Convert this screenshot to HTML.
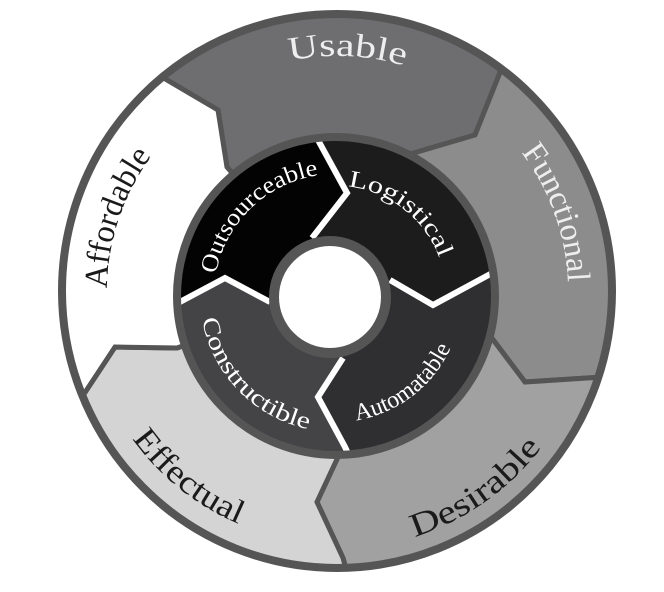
<!DOCTYPE html>
<html><head><meta charset="utf-8"><style>
html,body{margin:0;padding:0;background:#fff;width:664px;height:592px;overflow:hidden}
svg{display:block}
text{font-family:"Liberation Serif","DejaVu Serif",serif}
</style></head><body>
<svg width="664" height="592" viewBox="0 0 664 592" xmlns="http://www.w3.org/2000/svg" style="position:absolute;left:0;top:0">
<defs>
<clipPath id="oc"><ellipse cx="337" cy="291" rx="275" ry="277"/></clipPath>
<clipPath id="ic"><circle cx="336" cy="296" r="159"/></clipPath>
<path id="pU"/><path id="pF"/><path id="pD"/><path id="pE"/><path id="pA"/>
<path id="pO"/><path id="pL"/><path id="pAu"/><path id="pC"/>
</defs>
<g clip-path="url(#oc)" stroke="#555" stroke-width="5" stroke-linejoin="miter">
<polygon fill="#6e6e70" points="337,292 227,167 218,110 167,80 100,40 100,-50 560,-50 515,35 497,80 475,135 407,155"/>
<polygon fill="#8c8c8d" points="337,292 407,155 475,135 497,80 515,35 700,35 700,375 640,375 587,378 525,382 488,333"/>
<polygon fill="#a1a1a2" points="337,292 488,333 525,382 587,378 640,375 700,700 360,620 343,558 317,502 338,457"/>
<polygon fill="#d4d4d5" points="337,292 338,457 317,502 343,558 360,620 0,620 50,445 82,397 115,347 177,348"/>
<polygon fill="#ffffff" points="337,292 177,348 115,347 82,397 50,445 0,0 100,40 167,80 218,110 227,167"/>
</g>
<ellipse cx="337" cy="291" rx="275" ry="277" fill="none" stroke="#555" stroke-width="8"/>
<g clip-path="url(#ic)">
<polygon fill="#030303" points="330,297 270,302 225,278 178,303 150,318 150,100 305,115 318,140 347,193 312,238"/>
<polygon fill="#1c1c1c" points="330,297 312,238 347,193 318,140 305,115 520,100 520,258 483,278 433,305 390,280"/>
<polygon fill="#2f2f31" points="330,297 390,280 433,305 483,278 520,258 520,500 358,475 345,447 318,397 343,358"/>
<polygon fill="#444446" points="330,297 343,358 318,397 345,447 358,475 150,480 150,318 178,303 225,278 270,302"/>
<g fill="none" stroke="#fff" stroke-width="6" stroke-linejoin="miter">
<polyline points="305,115 318,140 347,193 312,238"/>
<polyline points="390,280 433,305 483,278 520,258"/>
<polyline points="343,358 318,397 345,447 358,475"/>
<polyline points="150,318 178,303 225,278 270,302"/>
</g>
</g>
<circle cx="336" cy="296" r="159" fill="none" stroke="#555" stroke-width="8"/>
<circle cx="330" cy="297" r="61" fill="#555"/>
<circle cx="330" cy="297" r="51" fill="#fff"/>
<g font-size="33">
<text fill="#eeeeee"><textPath href="#pU" startOffset="50%" text-anchor="middle" textLength="116" lengthAdjust="spacingAndGlyphs">Usable</textPath></text>
<text fill="#eeeeee"><textPath href="#pF" startOffset="50%" text-anchor="middle" textLength="140" lengthAdjust="spacingAndGlyphs">Functional</textPath></text>
<text fill="#1a1a1a"><textPath href="#pD" startOffset="50%" text-anchor="middle" textLength="158" lengthAdjust="spacingAndGlyphs">Desirable</textPath></text>
<text fill="#1a1a1a"><textPath href="#pE" startOffset="50%" text-anchor="middle" textLength="138" lengthAdjust="spacingAndGlyphs">Effectual</textPath></text>
<text fill="#1a1a1a"><textPath href="#pA" startOffset="50%" text-anchor="middle" textLength="142" lengthAdjust="spacingAndGlyphs">Affordable</textPath></text>
</g>
<g font-size="24" fill="#ffffff">
<text><textPath href="#pO" startOffset="50%" text-anchor="middle" textLength="152" lengthAdjust="spacingAndGlyphs">Outsourceable</textPath></text>
<text><textPath href="#pL" startOffset="50%" text-anchor="middle" textLength="122" lengthAdjust="spacingAndGlyphs">Logistical</textPath></text>
<text><textPath href="#pAu" startOffset="50%" text-anchor="middle" textLength="124" lengthAdjust="spacingAndGlyphs">Automatable</textPath></text>
<text><textPath href="#pC" startOffset="50%" text-anchor="middle" textLength="162" lengthAdjust="spacingAndGlyphs">Constructible</textPath></text>
</g>
</svg>
<script>
function arc(id,cx,cy,r,ang,cw){
  var span=120,a0,a1,sw;
  if(cw){a0=ang-span/2;a1=ang+span/2;sw=1;}else{a0=ang+span/2;a1=ang-span/2;sw=0;}
  var t0=a0*Math.PI/180,t1=a1*Math.PI/180;
  var x0=cx+r*Math.cos(t0),y0=cy+r*Math.sin(t0),x1=cx+r*Math.cos(t1),y1=cy+r*Math.sin(t1);
  document.getElementById(id).setAttribute('d','M'+x0.toFixed(2)+' '+y0.toFixed(2)+' A'+r+' '+r+' 0 0 '+sw+' '+x1.toFixed(2)+' '+y1.toFixed(2));
}
var fo=33*0.33, fi=24*0.33;
arc('pU',337,292,247-fo,-87.5,true);
arc('pF',337,292,242-fo,-19.8,true);
arc('pA',337,292,241-fo,-161.4,true);
arc('pD',337,292,246+fo,54.8,false);
arc('pE',337,292,241+fo,128.7,false);
arc('pO',336,296,130-fi,-134,true);
arc('pL',336,296,118-fi,-52,true);
arc('pAu',336,296,118+fi,52.5,false);
arc('pC',336,296,128+fi,136,false);
</script>
</body></html>
